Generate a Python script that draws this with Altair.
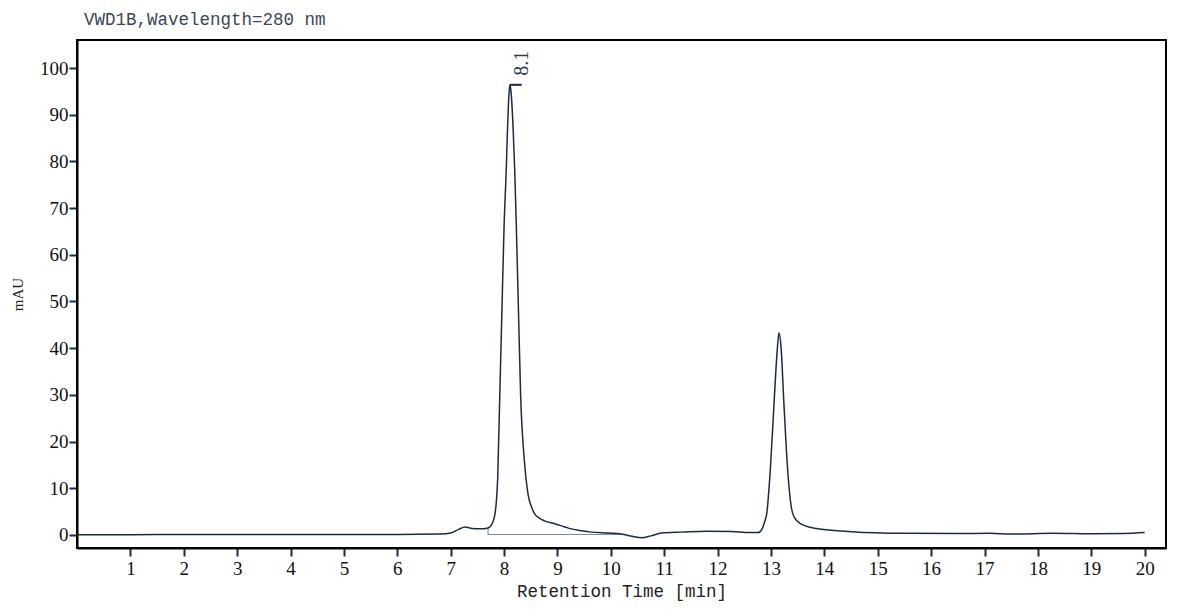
import altair as alt
import pandas as pd

# Chromatogram trace (retention time in min, signal in mAU)
time_min = [0.0, 1.0, 2.0, 3.0, 4.0, 5.0, 6.0, 6.8, 7.0, 7.15, 7.27, 7.4, 7.55, 7.7, 7.78,
            7.83, 7.88, 7.92, 7.96, 8.0, 8.04, 8.065, 8.09, 8.108, 8.13, 8.17, 8.2, 8.23,
            8.27, 8.31, 8.38, 8.45, 8.52, 8.58, 8.66, 8.76, 8.95, 9.14, 9.26, 9.45, 9.64,
            9.95, 10.2, 10.4, 10.58, 10.75, 10.95, 11.33, 11.8, 12.26, 12.6, 12.76, 12.83,
            12.88, 12.92, 12.99, 13.06, 13.12, 13.15, 13.19, 13.24, 13.31, 13.38, 13.44,
            13.57, 13.75, 13.95, 14.51, 15.45, 16.5, 17.1, 17.5, 18.3, 19.0, 19.6, 20.0]
signal_mau = [0.05, 0.05, 0.1, 0.1, 0.1, 0.1, 0.1, 0.2, 0.4, 1.2, 1.7, 1.4, 1.3, 1.5, 2.5,
              4.5, 12, 30, 48, 66, 78, 87, 94, 96.4, 95, 87, 78, 66,
              48, 30, 16, 8.7, 5.8, 4.4, 3.6, 3.0, 2.4, 1.7, 1.3, 0.9, 0.6,
              0.4, 0.2, -0.3, -0.6, -0.2, 0.4, 0.6, 0.8, 0.75, 0.5, 0.5, 1.2,
              2.8, 4.5, 14.4, 28.7, 40, 43.3, 40, 28.7, 14.4, 6, 3.7,
              2.3, 1.6, 1.2, 0.7, 0.35, 0.3, 0.35, 0.2, 0.35, 0.25, 0.3, 0.5]

# Peak annotation
peak_label = ["8.1"]
peak_time = [8.108]
peak_height = [96.4]
marker_end = [8.33]
baseline_start = [7.70]
baseline_end = [10.2]
baseline_level = [0.1]
baseline_top = [1.5]

x_ticks = list(range(1, 21))
y_ticks = list(range(0, 101, 10))

trace = pd.DataFrame({"t": time_min, "v": signal_mau})
ann = pd.DataFrame({"label": peak_label, "t": peak_time, "v": peak_height, "t2": marker_end,
                    "b0": baseline_start, "b1": baseline_end, "bl": baseline_level,
                    "bt": baseline_top})

LINE = "#1b2a44"
xscale = alt.Scale(domain=[0, 20.4], nice=False, zero=False)
yscale = alt.Scale(domain=[-2.8, 106], nice=False, zero=False)

line = alt.Chart(trace).mark_line(color=LINE, strokeWidth=1.5, interpolate="monotone").encode(
    x=alt.X("t:Q", scale=xscale, title="Retention Time [min]",
            axis=alt.Axis(values=x_ticks, format="d", grid=False)),
    y=alt.Y("v:Q", scale=yscale, title="mAU",
            axis=alt.Axis(values=y_ticks, format="d", grid=False)),
)

peak_mark = alt.Chart(ann).mark_rule(color=LINE, strokeWidth=2).encode(
    x="t:Q", x2="t2:Q", y="v:Q")

base_h = alt.Chart(ann).mark_rule(color="#7a8595", strokeWidth=1).encode(
    x="b0:Q", x2="b1:Q", y="bl:Q")
base_v = alt.Chart(ann).mark_rule(color="#6a7585", strokeWidth=1).encode(
    x="b0:Q", y="bl:Q", y2="bt:Q")

label = alt.Chart(ann).mark_text(
    angle=270, align="left", baseline="middle", font="Liberation Serif",
    fontSize=20, color="#2a3a50", dx=9
).encode(x="t2:Q", y="v:Q", text="label:N")

chart = alt.layer(base_h, base_v, line, peak_mark, label).properties(
    width=1089, height=508,
    padding={"left": 2, "top": 2, "right": 5, "bottom": 2},
    title=alt.TitleParams("VWD1B,Wavelength=280 nm", anchor="start", frame="group", dx=7,
                          offset=12, font="Liberation Mono", fontSize=17.5,
                          fontWeight="normal", color="#3a4656"),
).configure_view(stroke="black", strokeWidth=2).configure_axis(
    domainColor="black", domainWidth=2, tickColor=LINE, tickWidth=2, tickSize=8,
    labelFont="Liberation Serif", labelFontSize=19, labelColor="#111111", labelPadding=1,
    titleFont="Liberation Mono", titleFontSize=17.5, titleFontWeight="normal", titleColor="#222222",
).configure_axisY(titleFont="Liberation Serif", titleFontSize=15, titlePadding=14
).configure_axisX(titlePadding=4, labelPadding=3)

chart.save("out.html", embed_options={"renderer": "svg", "actions": False})
